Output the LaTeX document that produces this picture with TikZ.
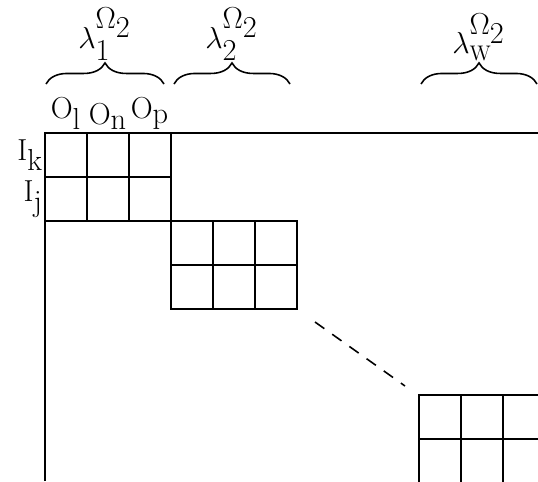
\documentclass[tikz,border=0pt]{standalone}
\usetikzlibrary{positioning,decorations.pathreplacing}
\tikzset{
  cell/.style={draw,line width=1.1pt,minimum width=8.4mm,minimum height=8.8mm,inner sep=0pt,outer sep=0pt},
  lbl/.style={font=\LARGE,inner sep=1pt},
  brc/.style={decorate,decoration={brace,amplitude=12pt},line width=0.9pt},
  frame/.style={line width=1.1pt},
}
\newcommand{\sub}[2]{\mathrm{#1}_{\textstyle\mathrm{#2}}}
\newcommand{\lam}[1]{\lambda_{#1}^{\textstyle\Omega_{\textstyle 2}}}
\begin{document}
\begin{tikzpicture}[x=0.2mm,y=-0.2mm]
  \useasboundingbox (0,0) rectangle (538,481);
  \clip (0,0) rectangle (538,481);
  % diagonal blocks
  \foreach \b/\x/\y in {1/66/155,2/192/243,3/440/417}
    \foreach \r in {0,1}
      \foreach \k in {0,1,2}
        \node[cell] (b\b-\r-\k) at (\x+\k*42,\y+\r*44) {};
  % outer frame
  \coordinate (tr) at (538,133);
  \coordinate (bl) at (45,481);
  \draw[frame] (bl) |- (tr);
  % dots between blocks
  \coordinate (d1) at (315,322);
  \coordinate (d2) at (405,386);
  \draw[line width=0.9pt,dash pattern=on 6.5pt off 5.5pt] (d1) -- (d2);
  % column and row labels
  \node[lbl,above=0.3mm of b1-0-0] (ol) {$\sub{O}{l}$};
  \node[lbl,above=0.3mm of b1-0-1] (on) {$\sub{O}{n}$};
  \node[lbl,above=0.3mm of b1-0-2] (op) {$\sub{O}{p}$};
  \node[lbl,left=0pt of b1-0-0] (ik) {$\sub{I}{k}$};
  \node[lbl,left=0pt of b1-1-0] (ij) {$\sub{I}{j}$};
  % braces
  \draw[brc] (46,84) -- (164,84) node[midway,above=12pt,lbl] (lam1) {$\lam{\textstyle 1}$};
  \draw[brc] (174,84) -- (290,84) node[midway,above=12pt,lbl] (lam2) {$\lam{\textstyle 2}$};
  \draw[brc] (421,84) -- (537,84) node[midway,above=12pt,lbl] (lamw) {$\lam{\mathrm{W}}$};
\end{tikzpicture}
\end{document}
